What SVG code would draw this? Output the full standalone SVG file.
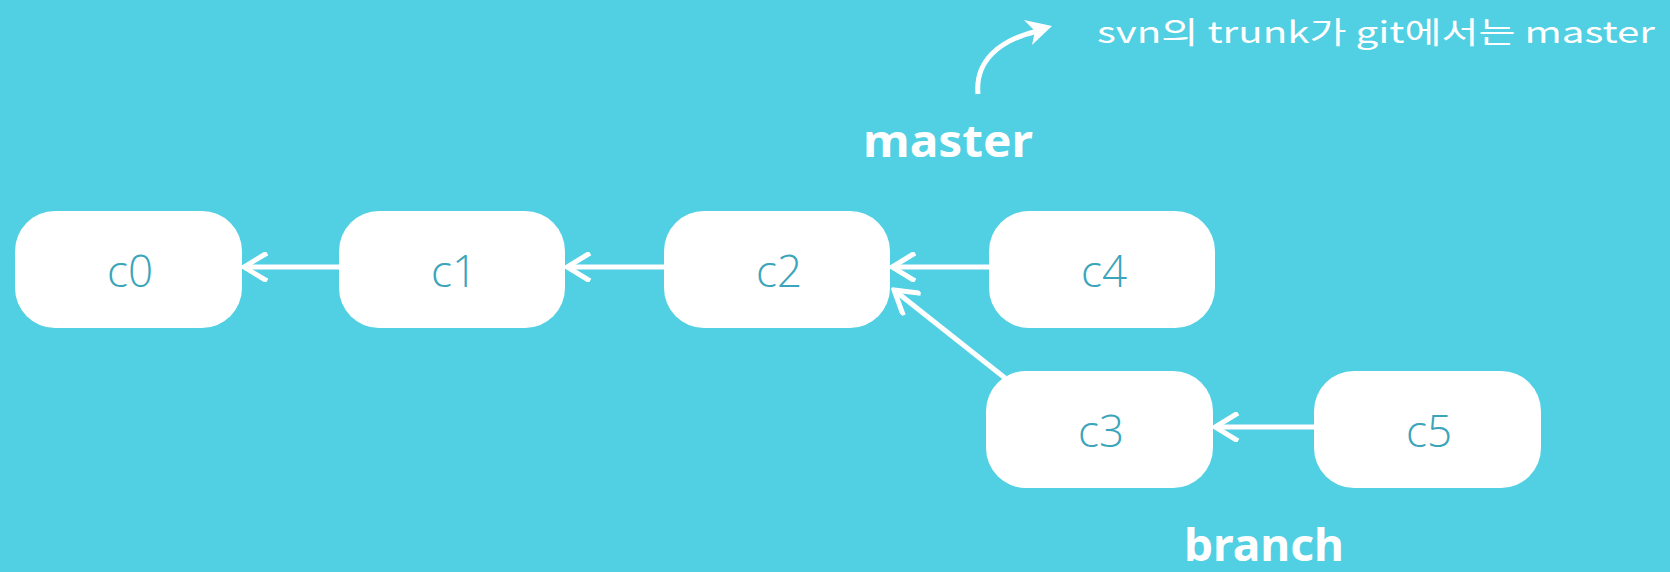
<svg xmlns="http://www.w3.org/2000/svg" width="1670" height="572" viewBox="0 0 1670 572">
  <defs>
    <style>
      .box { fill: #ffffff; }
      .lbl { fill: #3aa5ba; font-family: "Open Sans", "Noto Sans", sans-serif; font-weight: 300; font-size: 44px; text-anchor: middle; }
      .edge { stroke: #ffffff; stroke-width: 5; fill: none; }
      .tag { fill: #ffffff; font-family: "Noto Sans", "Open Sans", sans-serif; font-weight: bold; font-size: 44px; }
      .note { fill: #ffffff; font-family: "Noto Sans CJK KR", "Noto Sans", sans-serif; font-size: 30px; }
    </style>
    <marker id="chev" viewBox="0 0 30 30" refX="27" refY="15" markerWidth="30" markerHeight="30" markerUnits="userSpaceOnUse" orient="auto">
      <path d="M 4 1 L 27 15 L 4 29" fill="none" stroke="#ffffff" stroke-width="5"/>
    </marker>
  </defs>
  <rect x="0" y="0" width="1670" height="572" fill="#51cfe3"/>

  <g id="c0">
    <rect class="box" x="15" y="211" width="227" height="117" rx="40" ry="40"/>
    <text class="lbl" x="130" y="287">c0</text>
  </g>
  <g id="c1">
    <rect class="box" x="339" y="211" width="226" height="117" rx="40" ry="40"/>
    <text class="lbl" x="454" y="287">c1</text>
  </g>
  <g id="c2">
    <rect class="box" x="664" y="211" width="226" height="117" rx="40" ry="40"/>
    <text class="lbl" x="779" y="287">c2</text>
  </g>
  <g id="c4">
    <rect class="box" x="989" y="211" width="226" height="117" rx="40" ry="40"/>
    <text class="lbl" x="1104" y="287">c4</text>
  </g>
  <g id="c3">
    <rect class="box" x="986" y="371" width="227" height="117" rx="40" ry="40"/>
    <text class="lbl" x="1101" y="447">c3</text>
  </g>
  <g id="c5">
    <rect class="box" x="1314" y="371" width="227" height="117" rx="40" ry="40"/>
    <text class="lbl" x="1429" y="447">c5</text>
  </g>

  <g id="connectors">
    <line class="edge" x1="339" y1="267" x2="244" y2="267" marker-end="url(#chev)"/>
    <line class="edge" x1="664" y1="267" x2="567" y2="267" marker-end="url(#chev)"/>
    <line class="edge" x1="989" y1="267" x2="892" y2="267" marker-end="url(#chev)"/>
    <line class="edge" x1="1005" y1="378" x2="894" y2="290" marker-end="url(#chev)"/>
    <line class="edge" x1="1314" y1="427" x2="1215" y2="427" marker-end="url(#chev)"/>
    <path class="edge" d="M 978 94 C 975 62, 998 40, 1038 31" stroke-width="5.5"/>
    <path d="M 1052 26 L 1024 20 L 1035 31 L 1032 45 Z" fill="#ffffff"/>
  </g>

  <g id="master">
    <text class="tag" x="863" y="157" textLength="170" lengthAdjust="spacingAndGlyphs">master</text>
  </g>
  <g id="branch">
    <text class="tag" x="1184" y="561" textLength="160" lengthAdjust="spacingAndGlyphs">branch</text>
  </g>
  <g id="note">
    <text class="note" x="1097" y="43" textLength="558" lengthAdjust="spacingAndGlyphs">svn의 trunk가 git에서는 master</text>
  </g>
</svg>
